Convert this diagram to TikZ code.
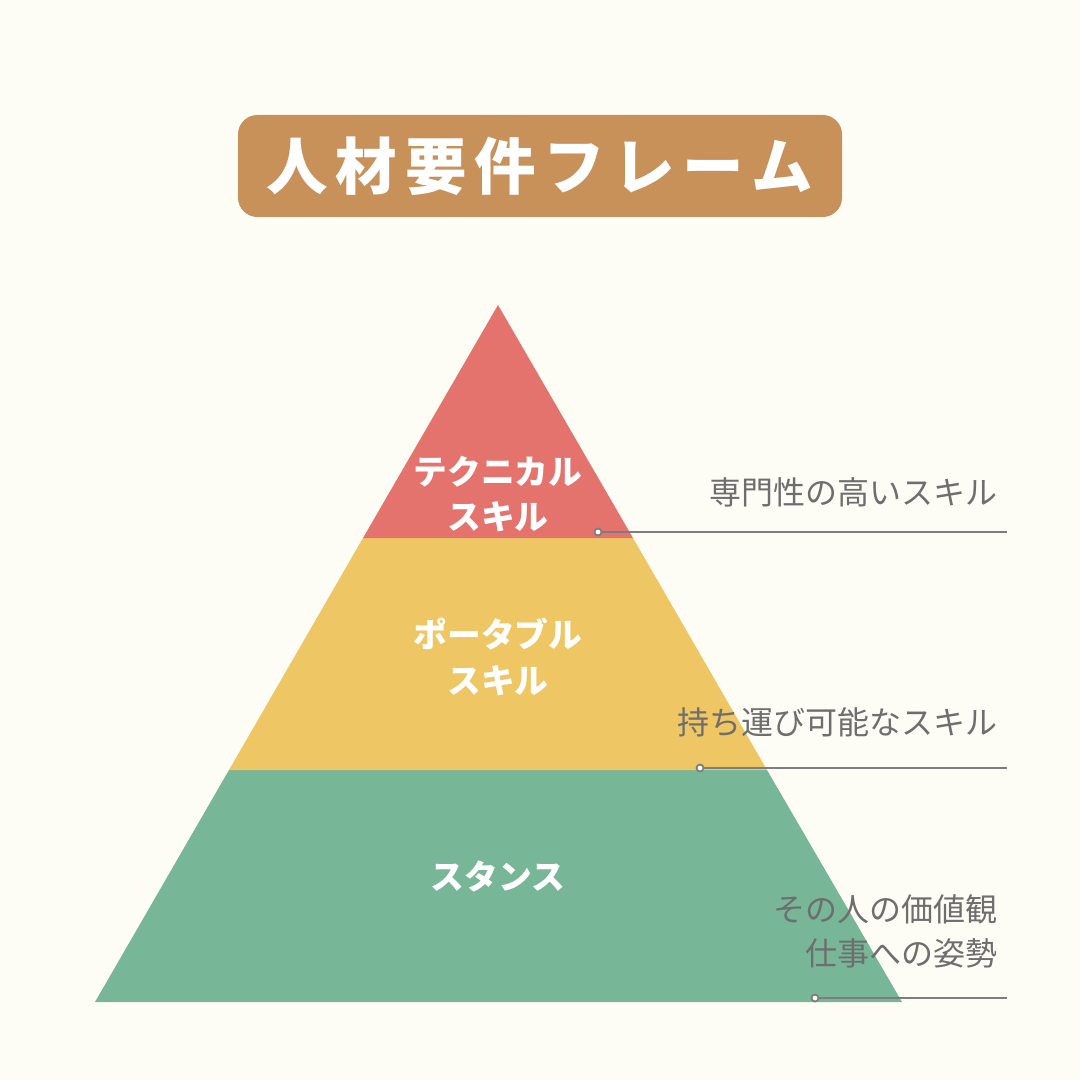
\documentclass[tikz,border=0pt]{standalone}
\usepackage{fontspec}
\newfontfamily\jp{Noto Sans CJK JP}
\definecolor{fondo}{HTML}{FEFDF5}
\definecolor{marron}{HTML}{C8915A}
\definecolor{rojo}{HTML}{E5736D}
\definecolor{amarillo}{HTML}{EEC664}
\definecolor{verde}{HTML}{77B798}
\definecolor{gris}{HTML}{6E6E6E}
\tikzset{
  capa/.style={font=\jp\bfseries\fontsize{9.6}{12}\selectfont, text=white, align=center},
  nota/.style={font=\jp\fontsize{9.1}{12.5}\selectfont, text=gris, anchor=east, align=right, inner sep=0pt},
  guia/.style={draw=gris!90, line width=0.5pt},
  punto/.style={draw=gris!90, fill=fondo, line width=0.5pt}
}
\begin{document}
\begin{tikzpicture}[x=0.01cm,y=-0.01cm]
    % Fondo
    \fill[fondo] (0,0) rectangle (1080,1080);
    \useasboundingbox (0,0) rectangle (1080,1080);

    % Titulo
    \fill[marron, rounded corners=5.5pt] (238,115) rectangle (842,217);
    \node[font=\jp\bfseries\fontsize{17.5}{20}\selectfont, text=white] (titulo) at (540,166)
      {人\hspace{2.2pt}材\hspace{2.2pt}要\hspace{2.2pt}件\hspace{2.2pt}フ\hspace{2.2pt}レ\hspace{2.2pt}ー\hspace{2.2pt}ム};

    % Piramide
    \fill[verde] (229,770) -- (767,770) -- (902,1002) -- (95,1002) -- cycle;
    \fill[amarillo] (363,538) -- (633,538) -- (767,770) -- (229,770) -- cycle;
    \fill[rojo] (498,305) -- (633,538) -- (363,538) -- cycle;

    % Capas
    \node[capa] (tecnica) at (498,494) {テクニカル\\[1pt]スキル};
    \node[capa] (portable) at (498,657) {ポータブル\\[1pt]スキル};
    \node[capa] (postura) at (498,876) {スタンス};

    % Notas
    \node[nota] (n1) at (998,492) {専門性の高いスキル};
    \node[nota] (n2) at (998,722) {持ち運び可能なスキル};
    \node[nota] (n3) at (998,931) {その人の価値観\\仕事への姿勢};

    % Lineas
    \coordinate (a1) at (598,532); \coordinate (b1) at (1007,532);
    \coordinate (a2) at (700,768); \coordinate (b2) at (1007,768);
    \coordinate (a3) at (815,998); \coordinate (b3) at (1007,998);
    \foreach \i in {1,2,3} {
      \draw[guia] (a\i) -- (b\i);
      \draw[punto] (a\i) circle (3.5);
    }
\end{tikzpicture}
\end{document}
